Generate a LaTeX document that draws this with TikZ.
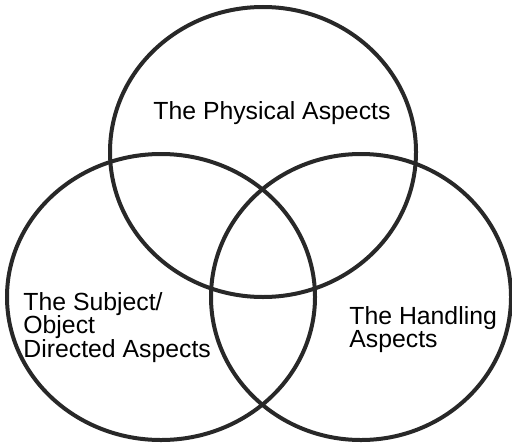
\documentclass[tikz,border=0pt]{standalone}
\usepackage{fontspec}
\setmainfont{Liberation Sans}
\usepackage{tikz}
\usetikzlibrary{positioning}
\definecolor{RingGray}{RGB}{40, 40, 40}

\begin{document}
\begin{tikzpicture}[
  x=0.5pt, y=-0.5pt,
  ring/.style={draw=RingGray, line width=2pt},
  label/.style={inner sep=0pt, align=left,
    font=\fontsize{12.4}{11.8}\selectfont}
]
  \useasboundingbox (0,0) rectangle (512,444);

  % the three sets
  \draw[ring] (263,152) ellipse [x radius=76.5pt, y radius=72.5pt];
  \draw[ring] (161,297) ellipse [x radius=77pt, y radius=71.5pt];
  \draw[ring] (361,297) ellipse [x radius=75pt, y radius=71.5pt];

  \node[label, anchor=base west] (physical) at (153,119) {The Physical Aspects};
  \node[label, anchor=north west] (subject) at (23,292)
    {The Subject/\\Object\\Directed Aspects};
  \node[label, anchor=north west] (handling) at (349,306)
    {The Handling\\Aspects};
\end{tikzpicture}
\end{document}
